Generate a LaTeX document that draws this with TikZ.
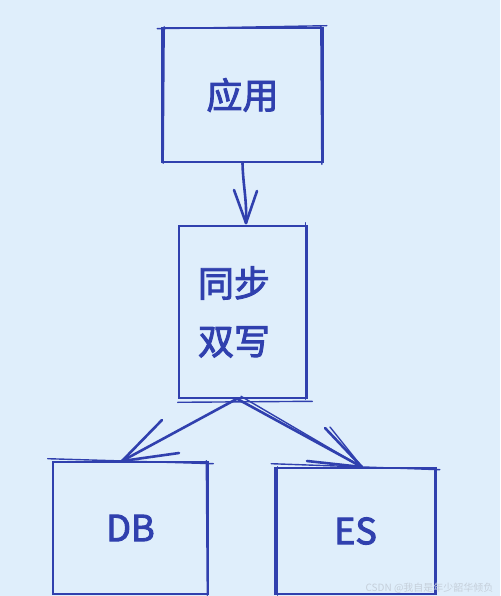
\documentclass[tikz,border=0pt]{standalone}
\usepackage{fontspec}
\newfontfamily\cjk{Noto Sans CJK SC}[FakeBold=2.6]
\newfontfamily\cjkw{Noto Sans CJK SC}
\definecolor{bg}{HTML}{DFEEFB}
\definecolor{ink}{HTML}{3040AE}
\definecolor{wm}{HTML}{C5CFDA}
\begin{document}
\begin{tikzpicture}[x=1pt,y=-1pt,
  sketch/.style={draw=ink,line width=2.6pt,line cap=round,line join=round},
  thin/.style={draw=ink,line width=1.4pt,line cap=round},
  boxnode/.style={draw=ink,line width=2.6pt,rectangle,inner sep=0pt,text=ink,font=\cjk\fontsize{36}{48}\selectfont},
  barb/.style={draw=ink,line width=2.6pt,line cap=round}]
\fill[bg] (0,0) rectangle (500,596);
\useasboundingbox (0,0) rectangle (500,596);
% nodes
\node[boxnode,minimum width=160pt,minimum height=134pt] (app) at (242.5,95) {应用};
\node[boxnode,minimum width=128pt,minimum height=172pt] (sync) at (243,312) {};
\node[text=ink,font=\cjk\fontsize{36}{58}\selectfont,align=left,anchor=center] (synct) at ([xshift=-9pt]sync.center) {同步\\双写};
\node[boxnode,minimum width=155pt,minimum height=132pt] (db) at (130.5,528) {DB};
\node[boxnode,minimum width=160pt,minimum height=126pt] (es) at (355.5,531) {ES};
% sketchy extra strokes
\draw[thin] ([xshift=-4pt,yshift=-2pt]app.north west) -- ([xshift=3pt,yshift=1pt]app.north east);
\draw[thin] ([xshift=-3pt,yshift=1pt]app.north east) -- ([xshift=-2pt,yshift=-1pt]app.south east);
\draw[thin] ([xshift=3pt]app.north west) -- ([xshift=2pt]app.south west);
\draw[thin] ([xshift=-3pt,yshift=2pt]sync.north east) -- ([xshift=-3pt]sync.south east);
\draw[thin] ([yshift=-3pt]sync.south west) -- ([xshift=4pt,yshift=-2pt]sync.south east);
\draw[thin] ([xshift=-4pt,yshift=2pt]db.north west) -- ([xshift=4pt,yshift=-3pt]db.north east);
\draw[thin] ([xshift=-3pt]db.north east) -- ([xshift=-2pt]db.south east);
\draw[thin] ([xshift=-3pt,yshift=3pt]es.north west) -- ([xshift=3pt,yshift=-3pt]es.north east);
\draw[thin] ([xshift=3pt]es.north west) -- ([xshift=3pt]es.south west);
% arrows
\coordinate (t1) at (246,223);
\draw[sketch] (app.south) .. controls (243,185) and (247,200) .. (t1);
\draw[barb] (t1) -- (234,190);
\draw[barb] (t1) -- (257,191);
\coordinate (t2) at (122,461);
\draw[sketch] ([xshift=-7pt]sync.south) -- (t2);
\draw[barb] (t2) -- (162,420);
\draw[barb] (t2) -- (179,453);
\coordinate (t3) at (362,467);
\draw[sketch] ([xshift=-5pt]sync.south) -- (t3);
\draw[thin] ([xshift=-2pt,yshift=3pt]sync.south) -- ([xshift=-2pt,yshift=1pt]t3);
\draw[barb] (t3) -- (325,428);
\draw[barb] (t3) -- (307,461);
\draw[thin] (t3) -- (330,427);
% watermark
\node[text=wm,font=\cjkw\fontsize{10}{12}\selectfont,anchor=east] (wmk) at (497,588) {CSDN @我自是年少韶华倾负};
\end{tikzpicture}
\end{document}
